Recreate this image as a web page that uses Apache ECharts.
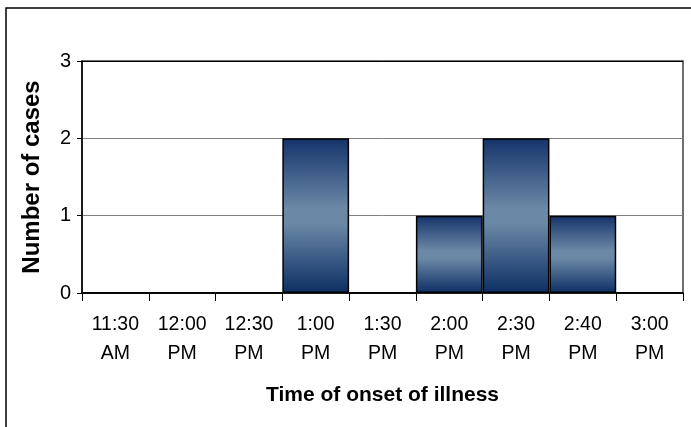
<!DOCTYPE html>
<html>
<head>
<meta charset="utf-8">
<script src="https://cdn.jsdelivr.net/npm/echarts@6/dist/echarts.min.js"></script>
<style>html,body{margin:0;padding:0;background:#fff}#c{width:691px;height:427px}</style>
</head>
<body>
<div id="c"></div>
<script>
const categories = ['11:30\nAM','12:00\nPM','12:30\nPM','1:00\nPM','1:30\nPM','2:00\nPM','2:30\nPM','2:40\nPM','3:00\nPM'];
const cases = [0, 0, 0, 2, 0, 1, 2, 1, 0];
const yTicks = [0, 1, 2, 3];
const xTitle = 'Time of onset of illness';
const yTitle = 'Number of cases';

const chart = echarts.init(document.getElementById('c'), null, {renderer: 'canvas'});
const font = '"Liberation Sans", Arial, sans-serif';
chart.setOption({
  animation: false,
  backgroundColor: '#fff',
  graphic: [{
    type: 'rect', shape: {x: 6, y: 8, width: 720, height: 440},
    style: {fill: 'none', stroke: '#000', lineWidth: 1.5}, silent: true, z: 100
  }],
  grid: {left: 82, right: 8, top: 61, bottom: 134, show: true, borderColor: '#404040', borderWidth: 1.5, backgroundColor: '#fff'},
  xAxis: {
    type: 'category', data: categories,
    name: xTitle, nameLocation: 'middle', nameGap: 92,
    nameTextStyle: {fontFamily: font, fontSize: 21, fontWeight: 'bold', color: '#000', lineHeight: 21},
    axisLine: {lineStyle: {color: '#000', width: 1.5}},
    axisTick: {show: true, length: 8, lineStyle: {color: '#000', width: 1}},
    axisLabel: {fontFamily: font, fontSize: 19.5, color: '#000', lineHeight: 29, margin: 17, interval: 0}
  },
  yAxis: {
    type: 'value', min: yTicks[0], max: yTicks[yTicks.length - 1], interval: 1,
    name: yTitle, nameLocation: 'middle', nameGap: 38, nameRotate: 90,
    nameTextStyle: {fontFamily: font, fontSize: 24, fontWeight: 'bold', color: '#000'},
    axisLine: {show: true, lineStyle: {color: '#000', width: 1.5}},
    axisTick: {show: true, length: 5, lineStyle: {color: '#000', width: 1}},
    axisLabel: {fontFamily: font, fontSize: 20, color: '#000', margin: 11},
    splitLine: {show: true, lineStyle: {color: ['#808080', '#808080', '#808080', '#000'], width: 1}}
  },
  series: [{
    type: 'bar', data: cases, barCategoryGap: '0%',
    itemStyle: {
      borderColor: '#000', borderWidth: 1.5,
      color: new echarts.graphic.LinearGradient(0, 0, 0, 1, [
        {offset: 0, color: '#14336a'},
        {offset: 0.45, color: '#6b88a6'},
        {offset: 0.55, color: '#6b88a6'},
        {offset: 1, color: '#0c2f64'}
      ])
    }
  }]
});
</script>
</body>
</html>
